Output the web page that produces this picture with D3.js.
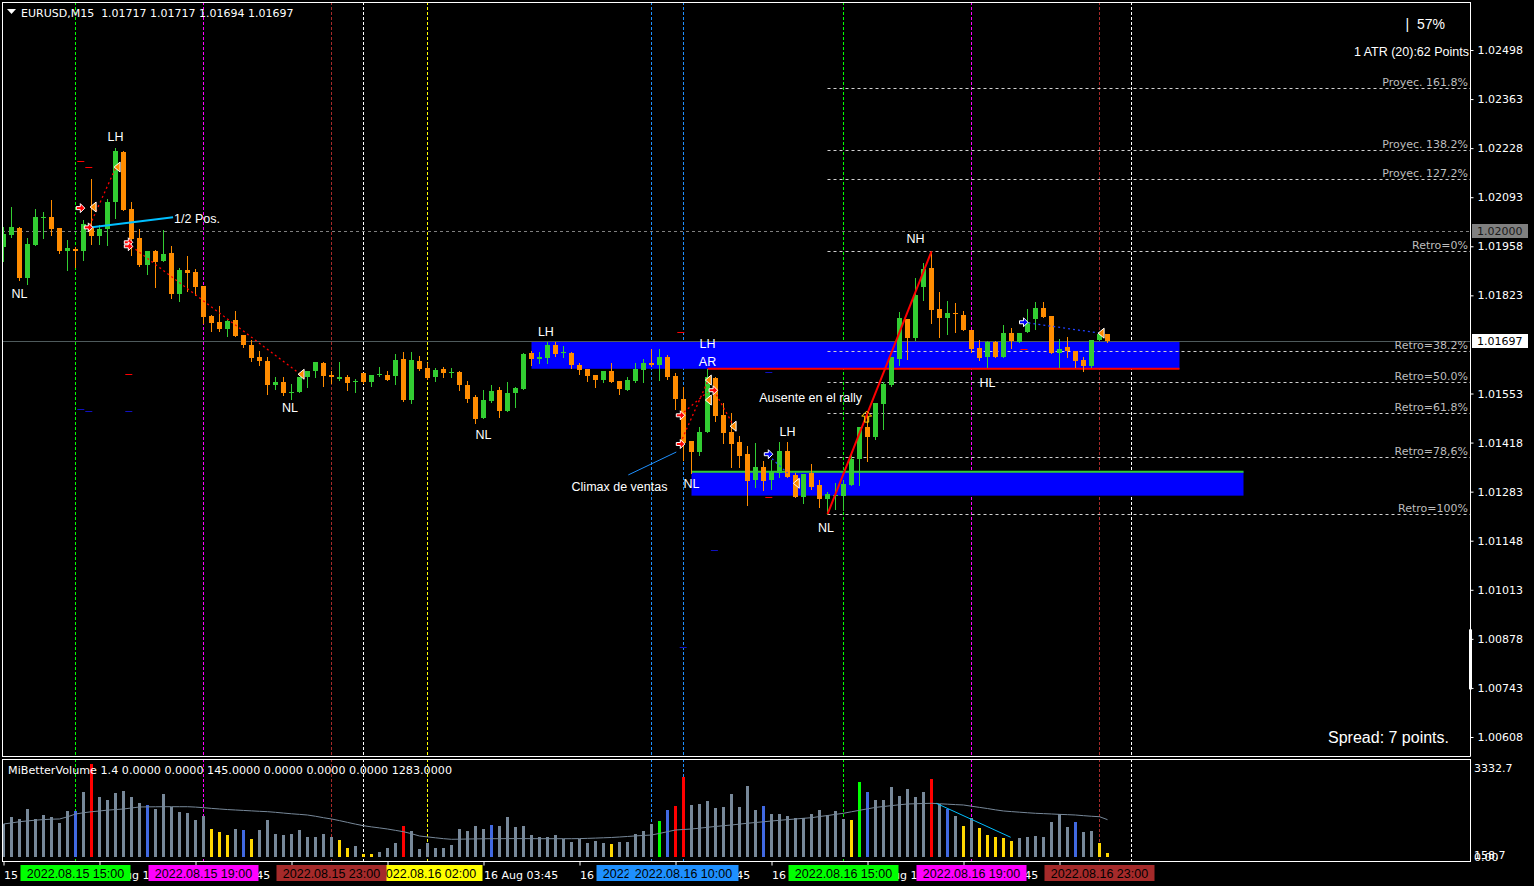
<!DOCTYPE html>
<html>
<head>
<meta charset="utf-8">
<title>EURUSD,M15</title>
<script src="https://cdn.jsdelivr.net/npm/d3@7/dist/d3.min.js"></script>
<style>
  html, body { margin: 0; padding: 0; background: #000; overflow: hidden; }
  svg { display: block; }
</style>
</head>
<body>
<svg id="chart" width="1534" height="886"></svg>
<script>
// ---------- EURUSD M15 bars (index 0 = 15 Aug 12:45) ----------
const opens = [
 1.01955,1.01988,1.02008,1.01870,1.01961,1.02035,1.02038,1.02008,1.01944,1.01950,
 1.01944,1.02010,1.01986,1.02005,1.02079,1.02217,1.02060,1.01980,1.01906,1.01944,
 1.01917,1.01939,1.01826,1.01892,1.01887,1.01848,1.01766,1.01749,1.01730,1.01755,
 1.01713,1.01686,1.01653,1.01642,1.01576,1.01584,1.01554,1.01557,1.01598,1.01614,
 1.01636,1.01603,1.01592,1.01598,1.01584,1.01609,1.01584,1.01603,1.01603,1.01601,
 1.01647,1.01535,1.01642,1.01623,1.01598,1.01620,1.01609,1.01612,1.01576,1.01543,
 1.01485,1.01532,1.01562,1.01504,1.01554,1.01565,1.01664,1.01647,1.01650,1.01686,
 1.01664,1.01664,1.01631,1.01620,1.01603,1.01590,1.01614,1.01587,1.01562,1.01587,
 1.01617,1.01636,1.01631,1.01653,1.01601,1.01537,1.01422,1.01392,1.01447,1.01595,
 1.01493,1.01447,1.01419,1.01386,1.01315,1.01350,1.01315,1.01334,1.01394,1.01328,
 1.01268,1.01334,1.01301,1.01262,1.01271,1.01271,1.01301,1.01372,1.01460,1.01433,
 1.01524,1.01576,1.01647,1.01757,1.01705,1.01845,1.01898,1.01785,1.01760,1.01774,
 1.01768,1.01727,1.01678,1.01653,1.01694,1.01653,1.01719,1.01694,1.01722,1.01757,
 1.01788,1.01766,1.01664,1.01680,1.01669,1.01645,1.01628,1.01700,1.01717];
const highs = [
 1.02010,1.02066,1.02010,1.01980,1.02060,1.02052,1.02085,1.02008,1.01975,1.01955,
 1.02030,1.02142,1.02016,1.02088,1.02228,1.02220,1.02079,1.02005,1.01944,1.01947,
 1.02002,1.01958,1.01898,1.01931,1.01895,1.01848,1.01768,1.01793,1.01755,1.01779,
 1.01713,1.01700,1.01669,1.01653,1.01598,1.01598,1.01579,1.01598,1.01614,1.01639,
 1.01639,1.01614,1.01639,1.01603,1.01592,1.01609,1.01603,1.01625,1.01614,1.01661,
 1.01667,1.01667,1.01656,1.01636,1.01623,1.01625,1.01623,1.01614,1.01587,1.01548,
 1.01562,1.01576,1.01570,1.01584,1.01570,1.01664,1.01669,1.01667,1.01694,1.01694,
 1.01683,1.01667,1.01636,1.01620,1.01603,1.01614,1.01636,1.01587,1.01598,1.01636,
 1.01647,1.01675,1.01675,1.01658,1.01609,1.01570,1.01422,1.01460,1.01620,1.01598,
 1.01526,1.01499,1.01436,1.01408,1.01416,1.01367,1.01370,1.01419,1.01419,1.01334,
 1.01331,1.01359,1.01315,1.01282,1.01306,1.01315,1.01383,1.01460,1.01499,1.01526,
 1.01584,1.01653,1.01777,1.01757,1.01870,1.01911,1.01944,1.01832,1.01807,1.01801,
 1.01779,1.01727,1.01700,1.01697,1.01697,1.01741,1.01733,1.01719,1.01785,1.01804,
 1.01804,1.01766,1.01702,1.01708,1.01669,1.01653,1.01700,1.01719,1.01717];
const lows = [
 1.01917,1.01983,1.01865,1.01854,1.01961,1.01980,1.01988,1.01939,1.01892,1.01900,
 1.01920,1.01964,1.01964,1.01961,1.02035,1.02057,1.01933,1.01903,1.01881,1.01845,
 1.01917,1.01815,1.01807,1.01834,1.01823,1.01746,1.01724,1.01724,1.01711,1.01711,
 1.01680,1.01642,1.01631,1.01551,1.01565,1.01548,1.01537,1.01557,1.01570,1.01598,
 1.01573,1.01581,1.01590,1.01562,1.01557,1.01581,1.01573,1.01601,1.01590,1.01579,
 1.01532,1.01526,1.01617,1.01592,1.01587,1.01598,1.01598,1.01562,1.01529,1.01471,
 1.01485,1.01529,1.01488,1.01504,1.01515,1.01565,1.01631,1.01636,1.01636,1.01656,
 1.01653,1.01623,1.01606,1.01587,1.01570,1.01584,1.01584,1.01551,1.01562,1.01584,
 1.01584,1.01628,1.01590,1.01592,1.01510,1.01370,1.01334,1.01383,1.01447,1.01477,
 1.01416,1.01350,1.01350,1.01246,1.01295,1.01287,1.01290,1.01323,1.01323,1.01268,
 1.01251,1.01290,1.01240,1.01221,1.01235,1.01232,1.01301,1.01301,1.01367,1.01427,
 1.01455,1.01573,1.01631,1.01647,1.01700,1.01810,1.01746,1.01708,1.01716,1.01722,
 1.01727,1.01667,1.01645,1.01625,1.01653,1.01653,1.01678,1.01694,1.01722,1.01730,
 1.01763,1.01664,1.01625,1.01653,1.01625,1.01614,1.01625,1.01700,1.01694];
const closes = [
 1.01991,1.02010,1.01870,1.01964,1.02038,1.02038,1.02005,1.01944,1.01953,1.01944,
 1.02019,1.01986,1.02005,1.02079,1.02220,1.02057,1.01977,1.01906,1.01944,1.01914,
 1.01936,1.01826,1.01892,1.01884,1.01845,1.01763,1.01746,1.01730,1.01752,1.01711,
 1.01686,1.01650,1.01642,1.01576,1.01584,1.01554,1.01557,1.01598,1.01614,1.01639,
 1.01601,1.01598,1.01598,1.01581,1.01587,1.01584,1.01603,1.01606,1.01590,1.01645,
 1.01535,1.01645,1.01620,1.01595,1.01617,1.01609,1.01612,1.01576,1.01537,1.01482,
 1.01535,1.01559,1.01504,1.01554,1.01568,1.01661,1.01647,1.01653,1.01686,1.01661,
 1.01667,1.01631,1.01617,1.01601,1.01590,1.01614,1.01584,1.01565,1.01590,1.01620,
 1.01636,1.01631,1.01653,1.01598,1.01537,1.01416,1.01392,1.01447,1.01598,1.01491,
 1.01444,1.01414,1.01381,1.01312,1.01350,1.01312,1.01337,1.01394,1.01323,1.01268,
 1.01331,1.01295,1.01262,1.01276,1.01273,1.01304,1.01372,1.01460,1.01433,1.01526,
 1.01579,1.01653,1.01760,1.01705,1.01823,1.01895,1.01782,1.01760,1.01774,1.01771,
 1.01727,1.01675,1.01650,1.01694,1.01653,1.01719,1.01697,1.01719,1.01749,1.01788,
 1.01763,1.01664,1.01675,1.01669,1.01642,1.01628,1.01700,1.01716,1.01697];

// MiBetterVolume histogram, its bar classes and the volume average
const volumes = [
 1134,1374,1306,1649,1306,1443,1374,1168,1581,1581,
 2244,3195,2062,1959,2209,2268,2062,1855,1787,1649,
 2165,1718,1546,1512,1282,1409,962,859,756,962,
 928,618,928,1271,790,756,790,928,687,687,
 790,687,584,309,378,103,103,172,309,481,
 1065,893,275,481,309,309,412,962,893,1065,
 962,1100,1065,1374,1031,1065,756,687,687,756,
 618,515,618,481,550,481,447,515,515,790,
 893,1134,1237,1615,1752,2749,1787,1821,1924,1684,
 1718,2165,1718,2440,1615,1752,1477,1477,1409,1340,
 1340,1477,1615,1443,1581,1306,1271,2577,2233,1959,
 1959,2405,2096,2336,2062,2233,2680,1821,1649,1409,
 1065,1340,996,756,687,653,550,653,687,722,
 687,1203,1477,1031,1203,859,893,481,145];
const volumeClasses = (
 "gggggggggb" + "grggggggbg" + "ggggggyyyg" + "bygggggggg" + "ggyygyyggg" +
 "rggggggggg" + "gbgggggggg" + "ggggggyggg" + "gglbrrgggg" + "gggggbgggg" +
 "ggggggylbg" + "ggggggrgbg" + "ygyyyyyggg" + "ggggbggyy").split("");
const volumeAverage = [
 1134,1170,1213,1240,1265,1285,1300,1306,1380,1477,
 1520,1555,1581,1610,1630,1649,1685,1718,1722,1725,
 1728,1728,1728,1728,1715,1694,1670,1650,1630,1615,
 1600,1585,1570,1557,1535,1510,1485,1465,1443,1400,
 1350,1306,1250,1190,1130,1075,1035,1000,962,915,
 869,800,722,690,660,630,608,612,618,622,
 626,629,629,632,632,632,630,629,629,629,
 629,629,632,640,650,660,670,687,705,725,
 740,756,810,870,928,945,962,990,1020,1050,
 1075,1100,1130,1160,1185,1210,1237,1260,1285,1305,
 1330,1350,1390,1425,1465,1502,1555,1605,1655,1704,
 1735,1765,1795,1821,1830,1838,1845,1830,1815,1800,
 1787,1745,1705,1665,1620,1581,1560,1540,1520,1502,
 1490,1478,1465,1455,1443,1420,1400,1385,1283];

// Axis ticks (labels fully covered by the session tags are left blank)
const priceTicks = [1.02498,1.02363,1.02228,1.02093,1.01958,1.01823,1.01553,1.01418,1.01283,1.01148,1.01013,1.00878,1.00743,1.00608];
const timeTickBars = [0,12,24,36,48,60,72,84,96,108,120,132];
const timeTickLabels = ["15 Aug 12:45","15 Aug 15:45","15 Aug 18:45","","","16 Aug 03:45",
  "16 Aug 06:45","16 Aug 09:45","16 Aug 12:45","16 Aug 15:45","16 Aug 18:45",""];

// Session separators (yellow listed before brown so the brown tag overlaps it)
const separatorBars   = [9, 25, 53, 41, 45, 81, 85, 105, 121, 137, 141];
const separatorColors = ["#00ff00","#ff00ff","#ffff00","#a52a2a","#ffffff","#1e90ff","#1e90ff","#00ff00","#ff00ff","#a52a2a","#ffffff"];
const separatorTags   = ["2022.08.15 15:00","2022.08.15 19:00","2022.08.16 02:00","2022.08.15 23:00",null,
  "2022.08.16 09:00","2022.08.16 10:00","2022.08.16 15:00","2022.08.16 19:00","2022.08.16 23:00",null];

// Fibonacci swing (NL -> NH)
const swingLowBar = 103, swingLow = 1.01221, swingHighBar = 116, swingHigh = 1.01944;
const fibNames  = ["Proyec. 161.8%","Proyec. 138.2%","Proyec. 127.2%","Retro=0%","Retro=38.2%","Retro=50.0%","Retro=61.8%","Retro=78,6%","Retro=100%"];
const fibRatios = [1.618, 1.382, 1.272, 1, 0.618, 0.5, 0.382, 0.214, 0];

// Supply / demand zones
const zoneFrom = [66, 86], zoneTo = [147, 155];
const zoneTop = [1.01697, 1.01338], zoneBottom = [1.01621, 1.01272];

// Price lines
const bidPrice = 1.01697, levelPrice = 1.02000;

// Text labels on the price pane: [bar, price, text]
const waveLabels = [
 [14, 1.02261, "LH"], [2, 1.01829, "NL"], [35.8, 1.01515, "NL"], [60, 1.01441, "NL"],
 [67.8, 1.01724, "LH"], [88, 1.01689, "LH"], [88, 1.01642, "AR"], [86, 1.01304, "NL"],
 [98, 1.01447, "LH"], [102.8, 1.01185, "NL"], [114, 1.01980, "NH"], [123, 1.01584, "HL"],
 [77, 1.01298, "Climax de ventas"], [100.9, 1.01543, "Ausente en el rally"]];

// Dotted swing links: [bar0, price0, bar1, price1, colour]
const swingLinks = [
 [10.8, 1.02016, 14.0, 1.02173, "#ff0000"],
 [16.0, 1.01958, 37.1, 1.01606, "#ff0000"],
 [84.6, 1.01416, 88.1, 1.01590, "#ff0000"],
 [84.6, 1.01493, 88.0, 1.01557, "#ff0000"],
 [88.8, 1.01562, 91.3, 1.01463, "#ff0000"],
 [95.6, 1.01383, 98.0, 1.01334, "#2040ff"],
 [127.5, 1.01749, 137.1, 1.01719, "#2040ff"]];

// Signal markers: [bar, price, kind]
const signalMarks = [
 [9.6, 1.02063, "redArrow"], [10.6, 1.02010, "redArrow"], [15.6, 1.01969, "redArrow"], [15.6, 1.01958, "redArrow"],
 [84.6, 1.01493, "redArrow"], [84.6, 1.01414, "redArrow"], [88.7, 1.01562, "redArrow"],
 [11.2, 1.02066, "tri"], [14.2, 1.02176, "tri"], [37.2, 1.01606, "tri"], [88.1, 1.01590, "tri"],
 [88.1, 1.01535, "tri"], [91.2, 1.01463, "tri"], [99.1, 1.01306, "tri"], [137.2, 1.01719, "tri"],
 [95.6, 1.01386, "blueArrow"], [127.5, 1.01749, "blueArrow"], [107.9, 1.01488, "upArrow"]];

// Short level ticks: [bar, price, colour]
const levelTicks = [
 [9.6, 1.02192, "#ff0000"], [10.6, 1.02176, "#ff0000"], [15.6, 1.01606, "#ff0000"], [84.6, 1.01722, "#ff0000"],
 [95.6, 1.01268, "#ff0000"], [127.5, 1.01675, "#ff0000"],
 [9.6, 1.01510, "#1010c0"], [10.6, 1.01504, "#1010c0"], [15.6, 1.01504, "#1010c0"], [95.6, 1.01612, "#1010c0"],
 [88.8, 1.01122, "#1010c0"], [84.9, 1.00853, "#1010c0"]];

// Half-position line and the climax pointer
const halfPosLine = [[10.8, 1.02010], [21.2, 1.02038]];
const climaxPointer = [[78.1, 1.01329], [84.1, 1.01392]];
// Volume decline line
const volumeSlope = [[116.6, 1845], [125.9, 677]];

// ---------- drawing ----------
const svg = d3.select("#chart");
svg.append("rect").attr("width", 1534).attr("height", 886).attr("fill", "#000");

const L = 2, R = 1470, T = 2, B = 756, VT = 759, VB = 862;
const x = d3.scaleLinear().domain([0, 183]).range([3.5, 3.5 + 183 * 8]);
const y = d3.scaleLinear().domain([1.00608, 1.02498]).range([737, 50]);
const yv = d3.scaleLinear().domain([0, 3332.7]).range([857, 760]);
const px = v => Math.floor(v) + 0.5;

const defs = svg.append("defs");
defs.append("clipPath").attr("id", "clipMain").append("rect").attr("x", L + 1).attr("y", T + 1).attr("width", R - L - 1).attr("height", B - T - 1);
defs.append("clipPath").attr("id", "clipVol").append("rect").attr("x", L + 1).attr("y", VT + 1).attr("width", R - L - 1).attr("height", VB - VT - 1);

const main = svg.append("g").attr("clip-path", "url(#clipMain)");
const vol = svg.append("g").attr("clip-path", "url(#clipVol)");

const LABEL_FONT = "'Liberation Sans', Arial, sans-serif";
const AXIS_FONT = "'DejaVu Sans', Verdana, sans-serif";

// session separators in both panes
separatorBars.forEach((b, k) => {
  [[main, T, B], [vol, VT, VB]].forEach(([g, y0, y1]) => {
    g.append("line").attr("x1", px(x(b))).attr("x2", px(x(b))).attr("y1", y0).attr("y2", y1)
      .attr("stroke", separatorColors[k]).attr("stroke-width", 1).attr("stroke-dasharray", "3,2");
  });
});

// zones
zoneFrom.forEach((f, k) => {
  main.append("rect").attr("x", x(f)).attr("y", y(zoneTop[k]))
    .attr("width", x(zoneTo[k]) - x(f)).attr("height", y(zoneBottom[k]) - y(zoneTop[k]))
    .attr("fill", "#0000ff");
});

// 1.02000 level and bid line
main.append("line").attr("x1", L).attr("x2", R).attr("y1", px(y(levelPrice))).attr("y2", px(y(levelPrice)))
  .attr("stroke", "#808080").attr("stroke-dasharray", "3,3");
main.append("line").attr("x1", L).attr("x2", R).attr("y1", px(y(bidPrice))).attr("y2", px(y(bidPrice)))
  .attr("stroke", "#4e5a5c");

// fibonacci levels
fibRatios.forEach((r, k) => {
  const isProj = fibNames[k].startsWith("Proyec");
  const price = isProj ? swingLow + r * (swingHigh - swingLow) : swingHigh - (1 - r) * (swingHigh - swingLow);
  const yy = px(y(price));
  main.append("line").attr("x1", x(swingLowBar)).attr("x2", R).attr("y1", yy).attr("y2", yy)
    .attr("stroke", "#d0d0d0").attr("stroke-dasharray", "3,3");
  main.append("text").attr("x", 1468).attr("y", yy - 3).attr("text-anchor", "end")
    .attr("font-family", AXIS_FONT).attr("font-size", 11).attr("fill", "#bdbdbd").text(fibNames[k]);
});

// zone edges
main.append("line").attr("x1", x(88)).attr("x2", x(zoneTo[0])).attr("y1", y(zoneBottom[0])).attr("y2", y(zoneBottom[0]))
  .attr("stroke", "#ff0000").attr("stroke-width", 2);
main.append("line").attr("x1", x(zoneFrom[1])).attr("x2", x(zoneTo[1])).attr("y1", y(zoneTop[1])).attr("y2", y(zoneTop[1]))
  .attr("stroke", "#32cd32").attr("stroke-width", 2);

// candles
const bars = d3.range(opens.length).map(i => ({i, o: opens[i], h: highs[i], l: lows[i], c: closes[i]}));
const candle = main.append("g").selectAll("g").data(bars).join("g");
candle.append("line")
  .attr("x1", d => px(x(d.i))).attr("x2", d => px(x(d.i)))
  .attr("y1", d => Math.round(y(d.h))).attr("y2", d => Math.round(y(d.l)) + 1)
  .attr("stroke", d => d.c >= d.o ? "#32cd32" : "#ff8c00");
candle.append("rect")
  .attr("x", d => Math.floor(x(d.i)) - 2).attr("width", 5)
  .attr("y", d => Math.round(y(Math.max(d.o, d.c))))
  .attr("height", d => Math.max(1, Math.round(y(Math.min(d.o, d.c))) - Math.round(y(Math.max(d.o, d.c)))))
  .attr("fill", d => d.c >= d.o ? "#32cd32" : "#ff8c00");

// swing trend line NL -> NH
main.append("line").attr("x1", x(swingLowBar)).attr("y1", y(swingLow)).attr("x2", x(swingHighBar)).attr("y2", y(swingHigh))
  .attr("stroke", "#ff0000").attr("stroke-width", 2);

// dotted links
swingLinks.forEach(([b0, p0, b1, p1, c]) => {
  main.append("line").attr("x1", x(b0)).attr("y1", y(p0)).attr("x2", x(b1)).attr("y2", y(p1))
    .attr("stroke", c).attr("stroke-width", 1.3).attr("stroke-dasharray", "2,3");
});

// level ticks
levelTicks.forEach(([b, p, c]) => {
  main.append("line").attr("x1", x(b) - 3).attr("x2", x(b) + 4).attr("y1", px(y(p))).attr("y2", px(y(p)))
    .attr("stroke", c).attr("stroke-width", 1);
});

// half position and climax pointer
const lineGen = d3.line().x(d => x(d[0])).y(d => y(d[1]));
main.append("path").attr("d", lineGen(halfPosLine)).attr("fill", "none").attr("stroke", "#00bfff").attr("stroke-width", 2);
main.append("text").attr("x", x(21.2) + 1).attr("y", y(1.02038) + 6).attr("font-family", LABEL_FONT).attr("font-size", 12.5)
  .attr("fill", "#fff").text("1/2 Pos.");
main.append("path").attr("d", lineGen(climaxPointer)).attr("fill", "none").attr("stroke", "#1e90ff").attr("stroke-width", 1);

// markers
const shapes = {
  redArrow: {d: "M-4,-1.5 L0,-1.5 L0,-4.5 L4.5,0 L0,4.5 L0,1.5 L-4,1.5 Z", fill: "#ff0000", stroke: "#ffffff"},
  blueArrow: {d: "M-4,-1.5 L0,-1.5 L0,-4.5 L4.5,0 L0,4.5 L0,1.5 L-4,1.5 Z", fill: "#0000ff", stroke: "#ffffff"},
  tri: {d: "M3,-5 L-3,0 L3,5 Z", fill: "#ff8c00", stroke: "#ffffff"},
  upArrow: {d: "M0,-6 L5,-1 L2,-1 L2,5 L-2,5 L-2,-1 L-5,-1 Z", fill: "none", stroke: "#ffd700"}
};
signalMarks.forEach(([b, p, k]) => {
  const s = shapes[k];
  main.append("path").attr("transform", `translate(${x(b)},${y(p)})`).attr("d", s.d)
    .attr("fill", s.fill).attr("stroke", s.stroke).attr("stroke-width", 1);
});

// wave labels
waveLabels.forEach(([b, p, t]) => {
  main.append("text").attr("x", x(b)).attr("y", y(p)).attr("dy", "0.35em").attr("text-anchor", "middle")
    .attr("font-family", LABEL_FONT).attr("font-size", 12.5).attr("fill", "#ffffff").text(t);
});

// ---------- volume pane ----------
const volColors = {g: "#778899", r: "#ff0000", b: "#4169e1", y: "#ffd700", l: "#00ff00"};
vol.append("g").selectAll("rect").data(volumes).join("rect")
  .attr("x", (d, i) => Math.floor(x(i)) - 1).attr("width", 3)
  .attr("y", d => Math.round(yv(d))).attr("height", d => 857 - Math.round(yv(d)))
  .attr("fill", (d, i) => volColors[volumeClasses[i]]);
vol.append("path").attr("d", d3.line().x((d, i) => x(i)).y(d => yv(d))(volumeAverage))
  .attr("fill", "none").attr("stroke", "#778899").attr("stroke-width", 1);
vol.append("path").attr("d", d3.line().x(d => x(d[0])).y(d => yv(d[1]))(volumeSlope))
  .attr("fill", "none").attr("stroke", "#00bfff").attr("stroke-width", 1);

// ---------- frames ----------
const frame = svg.append("g").attr("stroke", "#ffffff").attr("stroke-width", 1);
frame.append("line").attr("x1", L + 0.5).attr("x2", L + 0.5).attr("y1", T).attr("y2", B + 0.5);
frame.append("line").attr("x1", L).attr("x2", R + 0.5).attr("y1", T + 0.5).attr("y2", T + 0.5);
frame.append("line").attr("x1", L).attr("x2", R + 0.5).attr("y1", B + 0.5).attr("y2", B + 0.5);
frame.append("line").attr("x1", R + 0.5).attr("x2", R + 0.5).attr("y1", T).attr("y2", B + 0.5);
frame.append("line").attr("x1", L + 0.5).attr("x2", L + 0.5).attr("y1", VT).attr("y2", VB);
frame.append("line").attr("x1", L).attr("x2", R + 1).attr("y1", VT + 0.5).attr("y2", VT + 0.5);
frame.append("line").attr("x1", L).attr("x2", R + 1).attr("y1", VB - 0.5).attr("y2", VB - 0.5);
frame.append("line").attr("x1", R + 0.5).attr("x2", R + 0.5).attr("y1", VT).attr("y2", VB);

// ATR marker on the price scale
svg.append("rect").attr("x", R - 1).attr("y", y(1.00904)).attr("width", 3).attr("height", y(1.00739) - y(1.00904)).attr("fill", "#ffffff");

// ---------- price axis ----------
const yAxis = d3.axisRight(y).tickValues(priceTicks).tickSize(3).tickPadding(4).tickFormat(d3.format(".5f"));
const ya = svg.append("g").attr("transform", `translate(${R + 0.5},0)`).call(yAxis);
ya.select(".domain").remove();
ya.selectAll("line").attr("stroke", "#ffffff");
ya.selectAll("text").attr("fill", "#ffffff").attr("font-family", AXIS_FONT).attr("font-size", 11);

// level tag and bid tag
function priceTag(price, bg, fg) {
  const yy = Math.round(y(price));
  svg.append("rect").attr("x", 1472).attr("y", yy - 7).attr("width", 56).attr("height", 14).attr("fill", bg);
  svg.append("text").attr("x", 1477).attr("y", yy).attr("dy", "0.36em").attr("font-family", AXIS_FONT)
    .attr("font-size", 11).attr("fill", fg).text(d3.format(".5f")(price));
}
priceTag(levelPrice, "#808080", "#1a1a1a");
priceTag(bidPrice, "#ffffff", "#000000");

// volume scale labels
const vAxisText = (t, yy) => svg.append("text").attr("x", 1474).attr("y", yy).attr("dy", "0.36em")
  .attr("font-family", AXIS_FONT).attr("font-size", 11).attr("fill", "#ffffff").text(t);
vAxisText("3332.7", 768);
vAxisText("158.7", 855);
vAxisText("0.00", 857);

// ---------- time axis ----------
const xAxis = d3.axisBottom(x).tickValues(timeTickBars).tickSize(4).tickPadding(4)
  .tickFormat((d, k) => timeTickLabels[k]);
const xa = svg.append("g").attr("transform", `translate(0,${VB - 0.5})`).call(xAxis);
xa.select(".domain").remove();
xa.selectAll("line").attr("stroke", "#ffffff");
xa.selectAll("text").attr("fill", "#ffffff").attr("font-family", AXIS_FONT).attr("font-size", 11)
  .attr("text-anchor", "start").attr("dy", "0.85em");

// separator time tags
separatorBars.forEach((b, k) => {
  if (!separatorTags[k]) return;
  const cx = px(x(b));
  svg.append("rect").attr("x", cx - 55).attr("y", 865).attr("width", 110).attr("height", 16).attr("fill", separatorColors[k]);
  svg.append("text").attr("x", cx).attr("y", 873).attr("dy", "0.36em").attr("text-anchor", "middle")
    .attr("font-family", LABEL_FONT).attr("font-size", 12.5).attr("fill", "#000").text(separatorTags[k]);
});

// ---------- headers and info text ----------
svg.append("path").attr("d", "M7,9 L16,9 L11.5,14 Z").attr("fill", "#ffffff");
svg.append("text").attr("x", 21).attr("y", 13).attr("dy", "0.36em").attr("font-family", AXIS_FONT).attr("font-size", 11)
  .attr("fill", "#ffffff").attr("xml:space", "preserve").text("EURUSD,M15  1.01717 1.01717 1.01694 1.01697");
svg.append("text").attr("x", 8).attr("y", 770).attr("dy", "0.36em").attr("font-family", AXIS_FONT).attr("font-size", 11)
  .attr("fill", "#ffffff").attr("textLength", 444).attr("lengthAdjust", "spacingAndGlyphs")
  .text("MiBetterVolume 1.4 0.0000 0.0000 145.0000 0.0000 0.0000 0.0000 1283.0000");
svg.append("text").attr("x", 1445).attr("y", 24).attr("dy", "0.36em").attr("text-anchor", "end")
  .attr("font-family", LABEL_FONT).attr("font-size", 14).attr("fill", "#ffffff").attr("xml:space", "preserve").text("|  57%");
svg.append("text").attr("x", 1469).attr("y", 51).attr("dy", "0.36em").attr("text-anchor", "end")
  .attr("font-family", LABEL_FONT).attr("font-size", 12.5).attr("fill", "#ffffff").text("1 ATR (20):62 Points");
svg.append("text").attr("x", 1449).attr("y", 737).attr("dy", "0.36em").attr("text-anchor", "end")
  .attr("font-family", LABEL_FONT).attr("font-size", 16).attr("fill", "#ffffff").text("Spread: 7 points.");
</script>
</body>
</html>
